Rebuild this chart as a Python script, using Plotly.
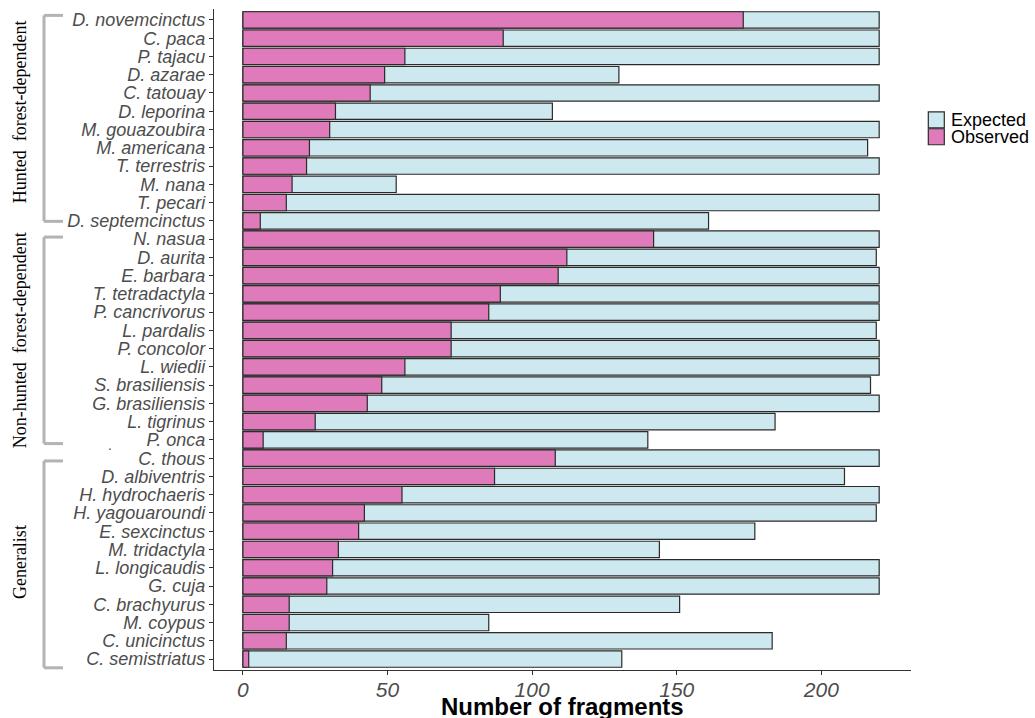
import plotly.graph_objects as go

# ---- data ----
hunted_species = ["D. novemcinctus", "C. paca", "P. tajacu", "D. azarae", "C. tatouay",
                  "D. leporina", "M. gouazoubira", "M. americana", "T. terrestris",
                  "M. nana", "T. pecari", "D. septemcinctus"]
hunted_observed = [173, 90, 56, 49, 44, 32, 30, 23, 22, 17, 15, 6]
hunted_expected = [220, 220, 220, 130, 220, 107, 220, 216, 220, 53, 220, 161]

nonhunted_species = ["N. nasua", "D. aurita", "E. barbara", "T. tetradactyla", "P. cancrivorus",
                     "L. pardalis", "P. concolor", "L. wiedii", "S. brasiliensis",
                     "G. brasiliensis", "L. tigrinus", "P. onca"]
nonhunted_observed = [142, 112, 109, 89, 85, 72, 72, 56, 48, 43, 25, 7]
nonhunted_expected = [220, 219, 220, 220, 220, 219, 220, 220, 217, 220, 184, 140]

generalist_species = ["C. thous", "D. albiventris", "H. hydrochaeris", "H. yagouaroundi",
                      "E. sexcinctus", "M. tridactyla", "L. longicaudis", "G. cuja",
                      "C. brachyurus", "M. coypus", "C. unicinctus", "C. semistriatus"]
generalist_observed = [108, 87, 55, 42, 40, 33, 31, 29, 16, 16, 15, 2]
generalist_expected = [220, 208, 220, 219, 177, 144, 220, 220, 151, 85, 183, 131]

group_names = ["Hunted  forest-dependent", "Non-hunted  forest-dependent", "Generalist"]
x_ticks = [0, 50, 100, 150, 200]
series_names = ["Expected", "Observed"]

species = hunted_species + nonhunted_species + generalist_species
observed = hunted_observed + nonhunted_observed + generalist_observed
expected = hunted_expected + nonhunted_expected + generalist_expected

EXP_COLOR = "#CDE8EE"
OBS_COLOR = "#DF7BBA"
EDGE = "#2b2b2b"

W, H = 1035, 718
ML, MR, MT, MB = 214, 124, 8.5, 48.2
PW, PH = W - ML - MR, H - MT - MB


def px_x(p):
    return (p - ML) / PW


def px_y(p):
    return (H - MB - p) / PH


fig = go.Figure()
fig.add_trace(go.Bar(
    y=species, x=expected, orientation="h", name=series_names[0], width=0.9,
    marker=dict(color=EXP_COLOR, line=dict(color=EDGE, width=1.2)),
))
fig.add_trace(go.Bar(
    y=species, x=observed, orientation="h", name=series_names[1], width=0.9,
    marker=dict(color=OBS_COLOR, line=dict(color=EDGE, width=1.2)),
))

n = len(species)
fig.update_layout(
    width=W, height=H,
    barmode="overlay",
    plot_bgcolor="white", paper_bgcolor="white",
    margin=dict(l=ML, r=MR, t=MT, b=MB, pad=0),
    font=dict(family="Liberation Sans, Arial, sans-serif", color="#4d4d4d"),
    showlegend=False,
    xaxis=dict(
        range=[-10, 231], tickvals=x_ticks, showgrid=False, zeroline=False,
        showline=True, linecolor="#333333", linewidth=1.3,
        ticks="outside", ticklen=4, tickcolor="#333333", ticklabelstandoff=-3,
        tickfont=dict(size=21, style="italic", color="#4d4d4d"),
        automargin=False,
    ),
    yaxis=dict(
        categoryorder="array", categoryarray=species,
        tickmode="array", tickvals=species, ticktext=species,
        range=[n - 0.4, -0.6], showgrid=False, zeroline=False,
        showline=True, linecolor="#333333", linewidth=1.3,
        ticks="outside", ticklen=4, tickcolor="#333333",
        tickfont=dict(size=18, style="italic", color="#4d4d4d"),
        automargin=False,
    ),
)

# x-axis title
fig.add_annotation(text="<b>Number of fragments</b>", xref="paper", yref="paper",
                   x=0.5, y=px_y(706), xanchor="center", yanchor="middle",
                   showarrow=False, font=dict(size=24, color="black"))

# group brackets & labels
BR_COLOR = "#b3b3b3"
bx = px_x(44)
bx2 = px_x(63)
brackets = [(-0.25, 11.03), (11.89, 23.2), (24.15, 35.48)]
label_y = [5.06, 17.54, 29.69]
for (y0, y1), name, ly in zip(brackets, group_names, label_y):
    for shp in [dict(x0=bx, x1=bx, y0=y0, y1=y1),
                dict(x0=bx, x1=bx2, y0=y0, y1=y0),
                dict(x0=bx, x1=bx2, y0=y1, y1=y1)]:
        fig.add_shape(type="line", xref="paper", yref="y",
                      line=dict(color=BR_COLOR, width=3), **shp)
    fig.add_annotation(text=name, xref="paper", yref="y", x=px_x(20), y=ly,
                       xanchor="center", yanchor="middle",
                       textangle=-90, showarrow=False,
                       font=dict(family="Liberation Serif, Times New Roman, serif",
                                 size=18, color="black"))

fig.add_annotation(text=".", xref="paper", yref="y", x=px_x(110), y=23.3,
                   xanchor="center", showarrow=False, font=dict(size=14, color="#4d4d4d"))

# legend (keys + labels)
legend_items = [(series_names[0], EXP_COLOR, 111.5), (series_names[1], OBS_COLOR, 128.3)]
for name, col, top in legend_items:
    fig.add_shape(type="rect", xref="paper", yref="paper",
                  x0=px_x(928.3), x1=px_x(944.3), y0=px_y(top + 16), y1=px_y(top),
                  fillcolor=col, line=dict(color=EDGE, width=1.2))
    fig.add_annotation(text=name, xref="paper", yref="paper",
                       x=px_x(949), y=px_y(top + 8), xanchor="left", yanchor="middle",
                       showarrow=False, font=dict(size=18, color="black"))

fig.write_html("out.html", config={"displayModeBar": False},
               post_script="document.body.style.margin='0';")
